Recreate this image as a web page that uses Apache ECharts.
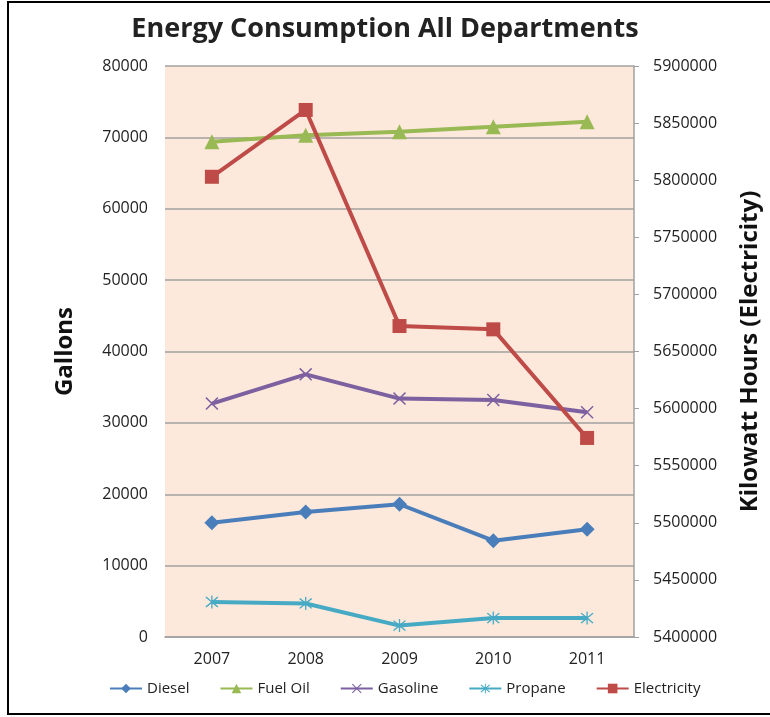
<!DOCTYPE html>
<html>
<head>
<meta charset="utf-8">
<script src="https://cdn.jsdelivr.net/npm/echarts@6/dist/echarts.min.js"></script>
<style>
html,body{margin:0;padding:0;background:#fff;}
#main{width:770px;height:717px;}
</style>
</head>
<body>
<div id="main"></div>
<script>
var years = ['2007', '2008', '2009', '2010', '2011'];
var diesel = [16000, 17500, 18600, 13500, 15100];
var fuelOil = [69400, 70300, 70800, 71500, 72200];
var gasoline = [32700, 36800, 33400, 33200, 31500];
var propane = [4900, 4700, 1600, 2650, 2650];
var electricity = [5803000, 5861500, 5672300, 5669400, 5574300];

var xMark = 'path://M0,0.8 L0.8,0 L5,4.2 L9.2,0 L10,0.8 L5.8,5 L10,9.2 L9.2,10 L5,5.8 L0.8,10 L0,9.2 L4.2,5 Z';
var starMark = 'path://M0,0.8 L0.8,0 L5,4.2 L9.2,0 L10,0.8 L5.8,5 L10,9.2 L9.2,10 L5,5.8 L0.8,10 L0,9.2 L4.2,5 Z M4.5,-1 L5.5,-1 L5.5,11 L4.5,11 Z';

var font = '"Open Sans", sans-serif';
var chart = echarts.init(document.getElementById('main'));

function plain(v) { return String(v); }

function line(name, data, color, symbol, size, axis) {
  return {
    name: name,
    type: 'line',
    data: data,
    yAxisIndex: axis || 0,
    symbol: symbol,
    symbolSize: size,
    showAllSymbol: true,
    lineStyle: {color: color, width: 4},
    itemStyle: {color: color, borderWidth: 0},
    emphasis: {disabled: true},
    animation: false
  };
}

var option = {
  animation: false,
  backgroundColor: '#fff',
  textStyle: {fontFamily: font},
  graphic: [{
    type: 'rect',
    shape: {x: 8, y: 2, width: 770, height: 712},
    style: {fill: 'none', stroke: '#000', lineWidth: 2},
    silent: true
  }],
  title: {
    text: 'Energy Consumption All Departments',
    left: 'center',
    top: 11,
    textStyle: {fontFamily: font, fontSize: 27, fontWeight: 'bold', color: '#222'}
  },
  legend: {
    bottom: 16,
    left: 104,
    itemWidth: 32,
    itemHeight: 12,
    itemGap: 30,
    textStyle: {fontFamily: font, fontSize: 15, color: '#222'},
    data: ['Diesel', 'Fuel Oil', 'Gasoline', 'Propane', 'Electricity']
  },
  grid: {
    left: 165, right: 133, top: 66, bottom: 80,
    show: true, backgroundColor: '#fde9db', borderWidth: 0
  },
  xAxis: {
    type: 'category',
    data: years,
    boundaryGap: true,
    axisLine: {lineStyle: {color: '#a0a0a0', width: 1.5}},
    axisTick: {show: false},
    axisLabel: {fontFamily: font, fontSize: 16, color: '#222', margin: 14}
  },
  yAxis: [{
    type: 'value',
    min: 0, max: 80000, interval: 10000,
    name: 'Gallons',
    nameLocation: 'middle',
    nameGap: 88,
    nameTextStyle: {fontFamily: font, fontSize: 24, fontWeight: 'bold', color: '#111'},
    axisLine: {show: false},
    axisTick: {show: false},
    axisLabel: {fontFamily: font, fontSize: 16, color: '#222', margin: 17, formatter: plain},
    splitLine: {lineStyle: {color: '#a0a0a0', width: 1.5}}
  }, {
    type: 'value',
    min: 5400000, max: 5900000, interval: 50000,
    name: 'Kilowatt Hours (Electricity)',
    nameLocation: 'middle',
    nameGap: 104,
    nameRotate: 90,
    nameTextStyle: {fontFamily: font, fontSize: 24, fontWeight: 'bold', color: '#111'},
    axisLine: {show: true, lineStyle: {color: '#a0a0a0', width: 1.5}},
    axisTick: {show: true, length: 5, lineStyle: {color: '#a0a0a0'}},
    axisLabel: {fontFamily: font, fontSize: 16, color: '#222', margin: 19, formatter: plain},
    splitLine: {show: false}
  }],
  series: [
    line('Diesel', diesel, '#4a7ebb', 'diamond', 15),
    line('Fuel Oil', fuelOil, '#98b954', 'triangle', 15),
    line('Gasoline', gasoline, '#7d60a0', xMark, 13),
    line('Propane', propane, '#46aac5', starMark, 13),
    line('Electricity', electricity, '#be4b48', 'rect', 14, 1)
  ]
};
chart.setOption(option);
</script>
</body>
</html>
